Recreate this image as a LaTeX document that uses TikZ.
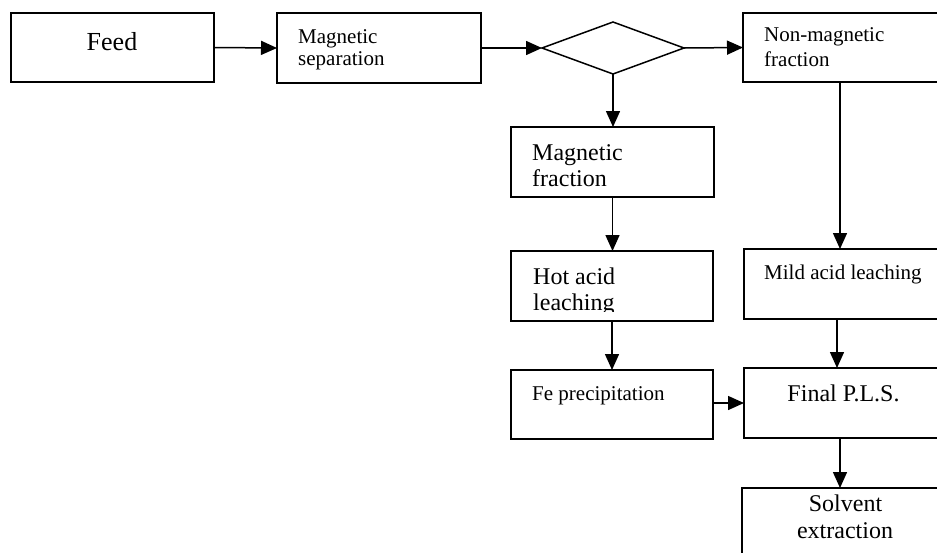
\documentclass[tikz,border=0pt]{standalone}
\usepackage{fontspec}
\setmainfont{Liberation Serif}
\usetikzlibrary{arrows.meta,shapes.geometric}
\begin{document}
\begin{tikzpicture}[x=1pt,y=-1pt,
  box/.style={draw, line width=1.5pt, inner sep=0pt, outer sep=0pt, anchor=north west},
  arr/.style={line width=1.5pt, -{Triangle[length=16pt,width=14pt]}},
  sm/.style={font=\fontsize{21}{25}\selectfont, inner sep=0pt, anchor=base west},
  lg/.style={font=\fontsize{24}{27}\selectfont, inner sep=0pt, anchor=base west},
  lgc/.style={font=\fontsize{24}{27}\selectfont, inner sep=0pt, anchor=base}]
\useasboundingbox (0,0) rectangle (937,552);
\clip (0,0) rectangle (937,552);
\fill[white] (0,0) rectangle (937,552);

% boxes
\node[box, minimum width=203pt, minimum height=69pt] (feed) at (11,13) {};
\node[box, minimum width=204pt, minimum height=70pt] (magsep) at (277,13) {};
\node[draw, line width=1.5pt, diamond, minimum width=142pt, minimum height=52pt, inner sep=0pt, outer sep=0pt] (dec) at (613,48) {};
\node[box, minimum width=197pt, minimum height=69pt] (nonmag) at (743,13) {};
\node[box, minimum width=203pt, minimum height=70pt] (magfrac) at (511,127) {};
\node[box, minimum width=202pt, minimum height=70pt] (hot) at (511,251) {};
\node[box, minimum width=196pt, minimum height=70pt] (mild) at (744,249) {};
\node[box, minimum width=202pt, minimum height=69pt] (fe) at (511,370) {};
\node[box, minimum width=196pt, minimum height=70pt] (final) at (744,368) {};
\node[box, minimum width=198pt, minimum height=120pt] (solv) at (742,488) {};

% texts
\node[font=\fontsize{26}{30}\selectfont, inner sep=0pt, anchor=base] (tfeed) at (112,50) {Feed};
\node[sm] (tms1) at (298,43) {Magnetic};
\node[sm] (tms2) at (298,65) {separation};
\node[sm] (tnm1) at (764,41.5) {Non-magnetic};
\node[sm] (tnm2) at (764,66.5) {fraction};
\node[lg] (tmf1) at (532,160) {Magnetic};
\node[lg] (tmf2) at (532,186.7) {fraction};
\node[lg] (tha1) at (533,284) {Hot acid};
\begin{scope}
  \clip (511,251) rectangle (713,311);
  \node[lg] (tha2) at (533,310.7) {leaching};
\end{scope}
\node[sm] (tmild) at (764,279) {Mild acid leaching};
\node[sm] (tfe) at (532,400) {Fe precipitation};
\node[lgc] (tfin) at (843.5,401) {Final P.L.S.};
\node[lgc] (tsx1) at (845.5,511.7) {Solvent};
\node[lgc] (tsx2) at (845,538.3) {extraction};

% connectors
\draw[arr] (feed.east) -- (magsep.west);
\draw[arr] (magsep.east) -- (dec.west);
\draw[arr] (dec.east) -- (nonmag.west);
\draw[arr] (dec.south) -- (dec.south |- magfrac.north);
\draw[arr] (magfrac.south) -- (magfrac.south |- hot.north);
\draw[arr] ([xshift=-1.5pt]nonmag.south) -- ([xshift=-1.5pt]nonmag.south |- mild.north);
\draw[arr] ([xshift=-5pt]mild.south) -- ([xshift=-5pt]mild.south |- final.north);
\draw[arr] (hot.south) -- (hot.south |- fe.north);
\draw[arr] ([yshift=1.5pt]fe.east) -- ([yshift=1.5pt]fe.east -| final.west);
\draw[arr] ([xshift=-2pt]final.south) -- ([xshift=-2pt]final.south |- solv.north);
\end{tikzpicture}
\end{document}
